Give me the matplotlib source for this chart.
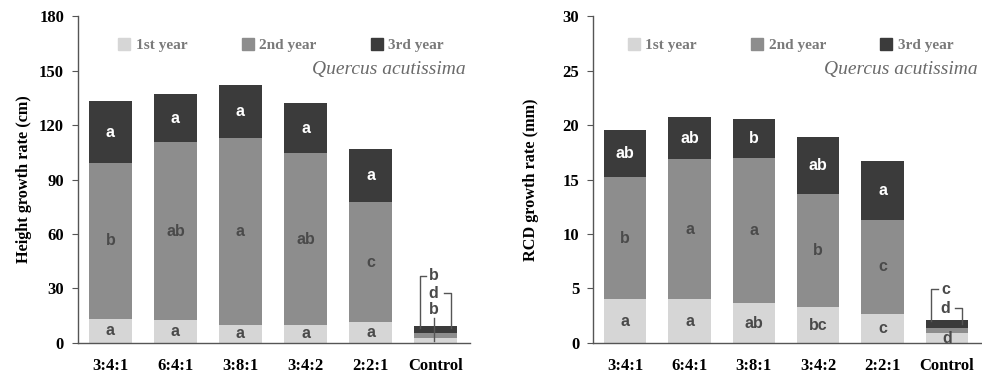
import numpy as np
import matplotlib
matplotlib.use('Agg')
import matplotlib.pyplot as plt
from matplotlib.patches import Patch

# data
groups = ['3:4:1', '6:4:1', '3:8:1', '3:4:2', '2:2:1', 'Control']
years = ['1st year', '2nd year', '3rd year']

height_y1 = [13.4, 12.5, 10.0, 10.0, 11.5, 2.5]
height_y2 = [85.5, 97.9, 103.0, 94.4, 66.0, 3.0]
height_y3 = [34.4, 26.6, 29.0, 27.8, 29.5, 4.0]
height_let1 = ['a', 'a', 'a', 'a', 'a', '']
height_let2 = ['b', 'ab', 'a', 'ab', 'c', '']
height_let3 = ['a', 'a', 'a', 'a', 'a', '']
height_ctrl = ['b', 'd', 'b']   # 3rd, 2nd, 1st year letters for Control

rcd_y1 = [4.03, 4.03, 3.66, 3.27, 2.69, 0.9]
rcd_y2 = [11.17, 12.81, 13.31, 10.37, 8.60, 0.5]
rcd_y3 = [4.33, 3.88, 3.60, 5.26, 5.43, 0.7]
rcd_let1 = ['a', 'a', 'ab', 'bc', 'c', 'd']
rcd_let2 = ['b', 'a', 'a', 'b', 'c', '']
rcd_let3 = ['ab', 'ab', 'b', 'ab', 'a', '']
rcd_ctrl = ['c', 'd']

colors = ['#d6d6d6', '#8d8d8d', '#3b3b3b']
let_colors = ['#4a4a4a', '#4a4a4a', 'white']
axcol = '#555555'

serif = 'Liberation Serif'
sans = 'Liberation Sans'

fig = plt.figure(figsize=(9.82, 3.76), dpi=100)
ax1 = fig.add_axes([0.0794, 0.0878, 0.3992, 0.8696])
ax2 = fig.add_axes([0.6039, 0.0878, 0.3951, 0.8696])

x = np.arange(len(groups))


def draw(ax, y1, y2, y3, l1, l2, l3, ymax, step, ylabel, lpad, legx):
    segs = [y1, y2, y3]
    lets = [l1, l2, l3]
    bottom = np.zeros(len(groups))
    for k in range(3):
        vals = np.array(segs[k])
        ax.bar(x, vals, 0.66, bottom=bottom, color=colors[k], zorder=2)
        for i in range(len(groups)):
            if lets[k][i]:
                ax.text(x[i], bottom[i] + vals[i] / 2, lets[k][i], ha='center', va='center',
                        fontsize=11.5, fontweight='bold', family=sans, color=let_colors[k], zorder=3)
        bottom = bottom + vals
    ax.set_xlim(-0.5, 5.53)
    ax.set_ylim(0, ymax)
    ax.set_yticks(np.arange(0, ymax + 0.1, step))
    ax.set_xticks(x)
    ax.set_xticklabels(groups)
    for s in ['top', 'right']:
        ax.spines[s].set_visible(False)
    for s in ['left', 'bottom']:
        ax.spines[s].set_color(axcol)
        ax.spines[s].set_linewidth(1.0)
    ax.tick_params(axis='y', direction='out', length=4, color=axcol, pad=6)
    ax.tick_params(axis='x', length=0, pad=11)
    for t in ax.get_xticklabels() + ax.get_yticklabels():
        t.set_family(serif)
        t.set_fontweight('bold')
        t.set_fontsize(12)
    ax.set_ylabel(ylabel, family=serif, fontweight='bold', fontsize=11.7, labelpad=lpad)
    handles = [Patch(color=c) for c in colors]
    leg = ax.legend(handles, years, ncol=3, loc='upper center', bbox_to_anchor=(legx, 0.975),
                    frameon=False, handlelength=0.8, handleheight=0.8, handletextpad=0.35,
                    columnspacing=3.55, prop={'family': serif, 'size': 11, 'weight': 'bold'})
    for t in leg.get_texts():
        t.set_color('#7a7a7a')
    ax.text(0.99, 0.835, 'Quercus acutissima', transform=ax.transAxes, ha='right', va='center',
            family=serif, style='italic', fontsize=14, color='#6a6a6a')


draw(ax1, height_y1, height_y2, height_y3, height_let1, height_let2, height_let3,
     180, 30, 'Height growth rate (cm)', 5, 0.518)
draw(ax2, rcd_y1, rcd_y2, rcd_y3, rcd_let1, rcd_let2, rcd_let3,
     30, 5, 'RCD growth rate (mm)', 17, 0.509)

lk = dict(color=axcol, lw=1.0, zorder=4)
tk = dict(ha='center', va='center', fontsize=11.5, fontweight='bold', family=sans, color='#4a4a4a')

# Control brackets, height panel
top1 = sum(v[5] for v in [height_y1, height_y2, height_y3])
ax1.plot([4.76, 4.76, 4.86], [top1 - 1, 37, 37], **lk)
ax1.plot([5.24, 5.24, 5.13], [top1 - 1, 27.5, 27.5], **lk)
ax1.plot([4.97, 4.97], [1.0, 13.5], **lk)
ax1.text(4.97, 37, height_ctrl[0], **tk)
ax1.text(4.97, 27.5, height_ctrl[1], **tk)
ax1.text(4.97, 18.5, height_ctrl[2], **tk)

# Control brackets, RCD panel
top2 = sum(v[5] for v in [rcd_y1, rcd_y2, rcd_y3])
ax2.plot([4.75, 4.75, 4.86], [top2 - 0.1, 4.95, 4.95], **lk)
ax2.plot([5.24, 5.24, 5.12], [rcd_y1[5] + rcd_y2[5] + 0.3, 3.2, 3.2], **lk)
ax2.text(4.98, 4.95, rcd_ctrl[0], **tk)
ax2.text(4.98, 3.2, rcd_ctrl[1], **tk)

fig.savefig('out.png', dpi=100)
